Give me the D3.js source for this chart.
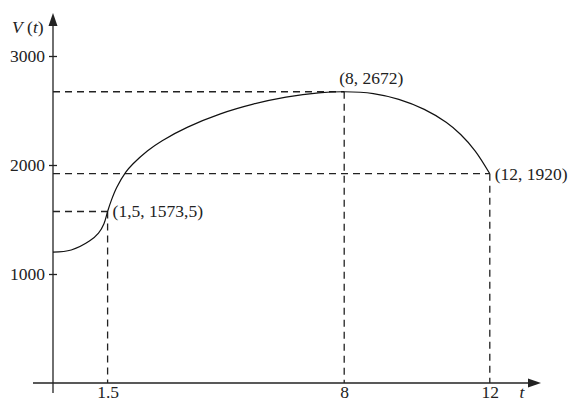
<!DOCTYPE html>
<html>
<head>
<meta charset="utf-8">
<script src="https://cdn.jsdelivr.net/npm/d3@7"></script>
<style>
  body { margin: 0; background: #fff; }
  text { font-family: "Liberation Serif", "DejaVu Serif", serif; fill: #222; }
</style>
</head>
<body>
<div class="chart"></div>
<script>
// curve samples
const tValues = [0, 0.5, 1.0, 1.25, 1.4, 1.5, 1.6, 1.75, 2.0, 2.2, 2.6, 3.0, 3.7, 4.6, 5.5, 6.4, 7.3, 8, 8.8, 9.5, 10.2, 10.8, 11.2, 11.6, 12]
const vValues = [1200, 1220, 1302, 1375, 1462, 1573.5, 1673.5, 1793.5, 1934.5, 2011.5, 2131.5, 2223.5, 2347.5, 2469, 2558, 2622, 2662, 2672, 2655, 2602, 2510, 2392, 2280, 2128, 1920]

// marked points
const markT = [1.5, 8, 12]
const markV = [1573.5, 2672, 1920]
const markLabels = ['(1,5, 1573,5)', '(8, 2672)', '(12, 1920)']

const yTicks = [1000, 2000, 3000]
const xTickLabels = ['1.5', '8', '12']

const width = 573, height = 401

const svg = d3.select('.chart')
    .append('svg')
        .attr('width', width)
        .attr('height', height)

const x = d3.scaleLinear().domain([0, 12]).range([53, 489.8])
const y = d3.scaleLinear().domain([0, 3000]).range([383, 56])

const ink = '#222'

//dashed guides
const guides = svg.append('g').attr('id', 'guides')
markT.forEach((t, i) => {
    guides.append('line')
        .attr('x1', x(0)).attr('x2', x(t))
        .attr('y1', y(markV[i])).attr('y2', y(markV[i]))
    guides.append('line')
        .attr('x1', x(t)).attr('x2', x(t))
        .attr('y1', y(markV[i])).attr('y2', y(0))
})
guides.selectAll('line')
    .style('stroke', ink)
    .style('stroke-width', 1.3)
    .style('stroke-dasharray', '7,5')

//axes lines with arrows
svg.append('line')
    .attr('x1', 33).attr('x2', 532)
    .attr('y1', y(0)).attr('y2', y(0))
    .style('stroke', ink).style('stroke-width', 1.3)
svg.append('line')
    .attr('x1', x(0)).attr('x2', x(0))
    .attr('y1', 393).attr('y2', 20)
    .style('stroke', ink).style('stroke-width', 1.3)
svg.append('path')
    .attr('d', `M${x(0)},13 L${x(0) - 4.5},26 L${x(0) + 4.5},26 Z`)
    .style('fill', ink)
svg.append('path')
    .attr('d', `M541,${y(0)} L528,${y(0) - 4.5} L528,${y(0) + 4.5} Z`)
    .style('fill', ink)

//y axis ticks and labels
const yAxis = svg.append('g')
    .attr('transform', `translate(${x(0)}, 0)`)
    .call(d3.axisLeft(y).tickValues(yTicks).tickSize(4).tickPadding(4)
        .tickFormat(d3.format('d')))
yAxis.select('.domain').remove()
yAxis.selectAll('line').attr('x2', -4).attr('x1', 4).style('stroke', ink).style('stroke-width', 1.3)
yAxis.selectAll('text')
    .style('font-family', '"Liberation Serif", serif')
    .style('font-size', '17.5px')
    .style('fill', ink)

//x axis labels
const xAxis = svg.append('g')
    .attr('transform', `translate(0, ${y(0)})`)
    .call(d3.axisBottom(x).tickValues(markT).tickSize(0).tickPadding(3)
        .tickFormat((d, i) => xTickLabels[i]))
xAxis.select('.domain').remove()
xAxis.selectAll('text')
    .style('font-family', '"Liberation Serif", serif')
    .style('font-size', '17.5px')
    .style('fill', ink)

svg.append('text')
    .attr('x', 522).attr('y', 398)
    .attr('text-anchor', 'middle')
    .style('font-size', '17.5px')
    .style('font-style', 'italic')
    .text('t')

const vLabel = svg.append('text')
    .attr('x', 12).attr('y', 33)
    .style('font-size', '17.5px')
vLabel.append('tspan').style('font-style', 'italic').text('V')
vLabel.append('tspan').text(' (')
vLabel.append('tspan').style('font-style', 'italic').text('t')
vLabel.append('tspan').text(')')

//curve
const line = d3.line()
    .x((d) => x(d[0]))
    .y((d) => y(d[1]))
    .curve(d3.curveCatmullRom.alpha(0.5))

svg.append('path')
    .datum(tValues.map((t, i) => [t, vValues[i]]))
    .attr('d', line)
    .style('fill', 'none')
    .style('stroke', '#111')
    .style('stroke-width', 1.2)

//point labels
const labelPos = [
    { dx: 5, dy: 6 },
    { dx: -5, dy: -8 },
    { dx: 5, dy: 6 }
]
markT.forEach((t, i) => {
    svg.append('text')
        .attr('x', x(t) + labelPos[i].dx)
        .attr('y', y(markV[i]) + labelPos[i].dy)
        .style('font-size', '17.5px')
        .text(markLabels[i])
})
</script>
</body>
</html>
